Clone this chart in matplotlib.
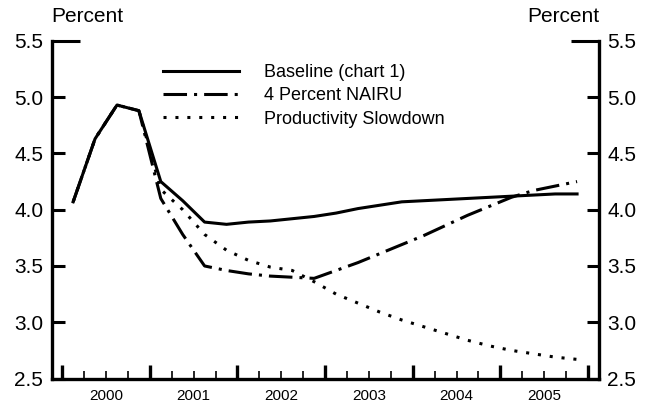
import numpy as np
import matplotlib
matplotlib.use("Agg")
import matplotlib.pyplot as plt

plt.rcParams['font.family'] = ['Liberation Sans', 'DejaVu Sans']

# quarterly, 2000Q1 - 2005Q4
years = [2000, 2001, 2002, 2003, 2004, 2005]
baseline = [4.07, 4.63, 4.93, 4.88,
            4.25, 4.08, 3.89, 3.87,
            3.89, 3.90, 3.92, 3.94,
            3.97, 4.01, 4.04, 4.07,
            4.08, 4.09, 4.10, 4.11,
            4.12, 4.13, 4.14, 4.14]
nairu = [4.07, 4.63, 4.93, 4.88,
         4.10, 3.78, 3.50, 3.46,
         3.43, 3.41, 3.40, 3.39,
         3.46, 3.53, 3.61, 3.69,
         3.77, 3.86, 3.95, 4.03,
         4.11, 4.17, 4.21, 4.25]
prod_slow = [4.07, 4.63, 4.93, 4.88,
             4.18, 4.00, 3.78, 3.64,
             3.55, 3.49, 3.46, 3.36,
             3.25, 3.17, 3.09, 3.02,
             2.96, 2.90, 2.84, 2.79,
             2.75, 2.72, 2.69, 2.67]
labels = ['Baseline (chart 1)', '4 Percent NAIRU', 'Productivity Slowdown']
yticks = [2.5, 3.0, 3.5, 4.0, 4.5, 5.0, 5.5]

# mid-quarter positions
x = years[0] + (np.arange(len(baseline)) + 0.5) / 4.0

fig = plt.figure(figsize=(6.5, 4.07), dpi=100)
ax = fig.add_axes([0.0795, 0.0700, 0.8420, 0.8295])

lw = 2.2
ax.plot(x, baseline, color='black', lw=lw, label=labels[0])
ax.plot(x, nairu, color='black', lw=lw, linestyle=(0, (7.7, 2.3, 1.0, 2.3)), label=labels[1])
ax.plot(x, prod_slow, color='black', lw=lw, linestyle=(0, (1.0, 2.9)), label=labels[2])

ax.set_xlim(1999.88, 2006.125)
ax.set_ylim(2.5, 5.5)

ax.spines['top'].set_visible(False)
for side in ['left', 'right', 'bottom']:
    ax.spines[side].set_linewidth(2.4)

# x axis: year boundaries (major), quarters (minor), labels centred on years
ax.set_xticks(np.arange(years[0], years[-1] + 2))
ax.set_xticks(np.arange(years[0], years[-1] + 1.01, 0.25), minor=True)
ax.tick_params(axis='x', which='major', direction='in', length=10, width=2.4, labelbottom=False)
ax.tick_params(axis='x', which='minor', direction='in', length=6, width=1.2)
for yr in years:
    ax.text(yr + 0.5, -0.03, str(yr), transform=ax.get_xaxis_transform(),
            ha='center', va='top', fontsize=11)

ax.set_yticks(yticks)
ax.set_yticklabels([f'{v:.1f}' for v in yticks])
ax.tick_params(axis='y', which='major', direction='in', length=9, width=2.2,
               left=True, right=True, labelleft=True, labelright=True,
               labelsize=15, pad=6)
# the 5.5 tick is drawn longer in the original
for t in ax.yaxis.get_major_ticks()[-1:]:
    t.tick1line.set_markersize(20)
    t.tick2line.set_markersize(20)

fig.text(51 / 650, 1 - 17 / 407, 'Percent', ha='left', va='center', fontsize=15)
fig.text(599 / 650, 1 - 17 / 407, 'Percent', ha='right', va='center', fontsize=15)

leg = ax.legend(loc='upper left', bbox_to_anchor=(163 / 650, 1 - 64 / 407),
                bbox_transform=fig.transFigure, frameon=False, fontsize=13,
                handlelength=4.2, handletextpad=1.4, labelspacing=0.35,
                borderpad=0, borderaxespad=0)

fig.savefig('out.png', dpi=100)
